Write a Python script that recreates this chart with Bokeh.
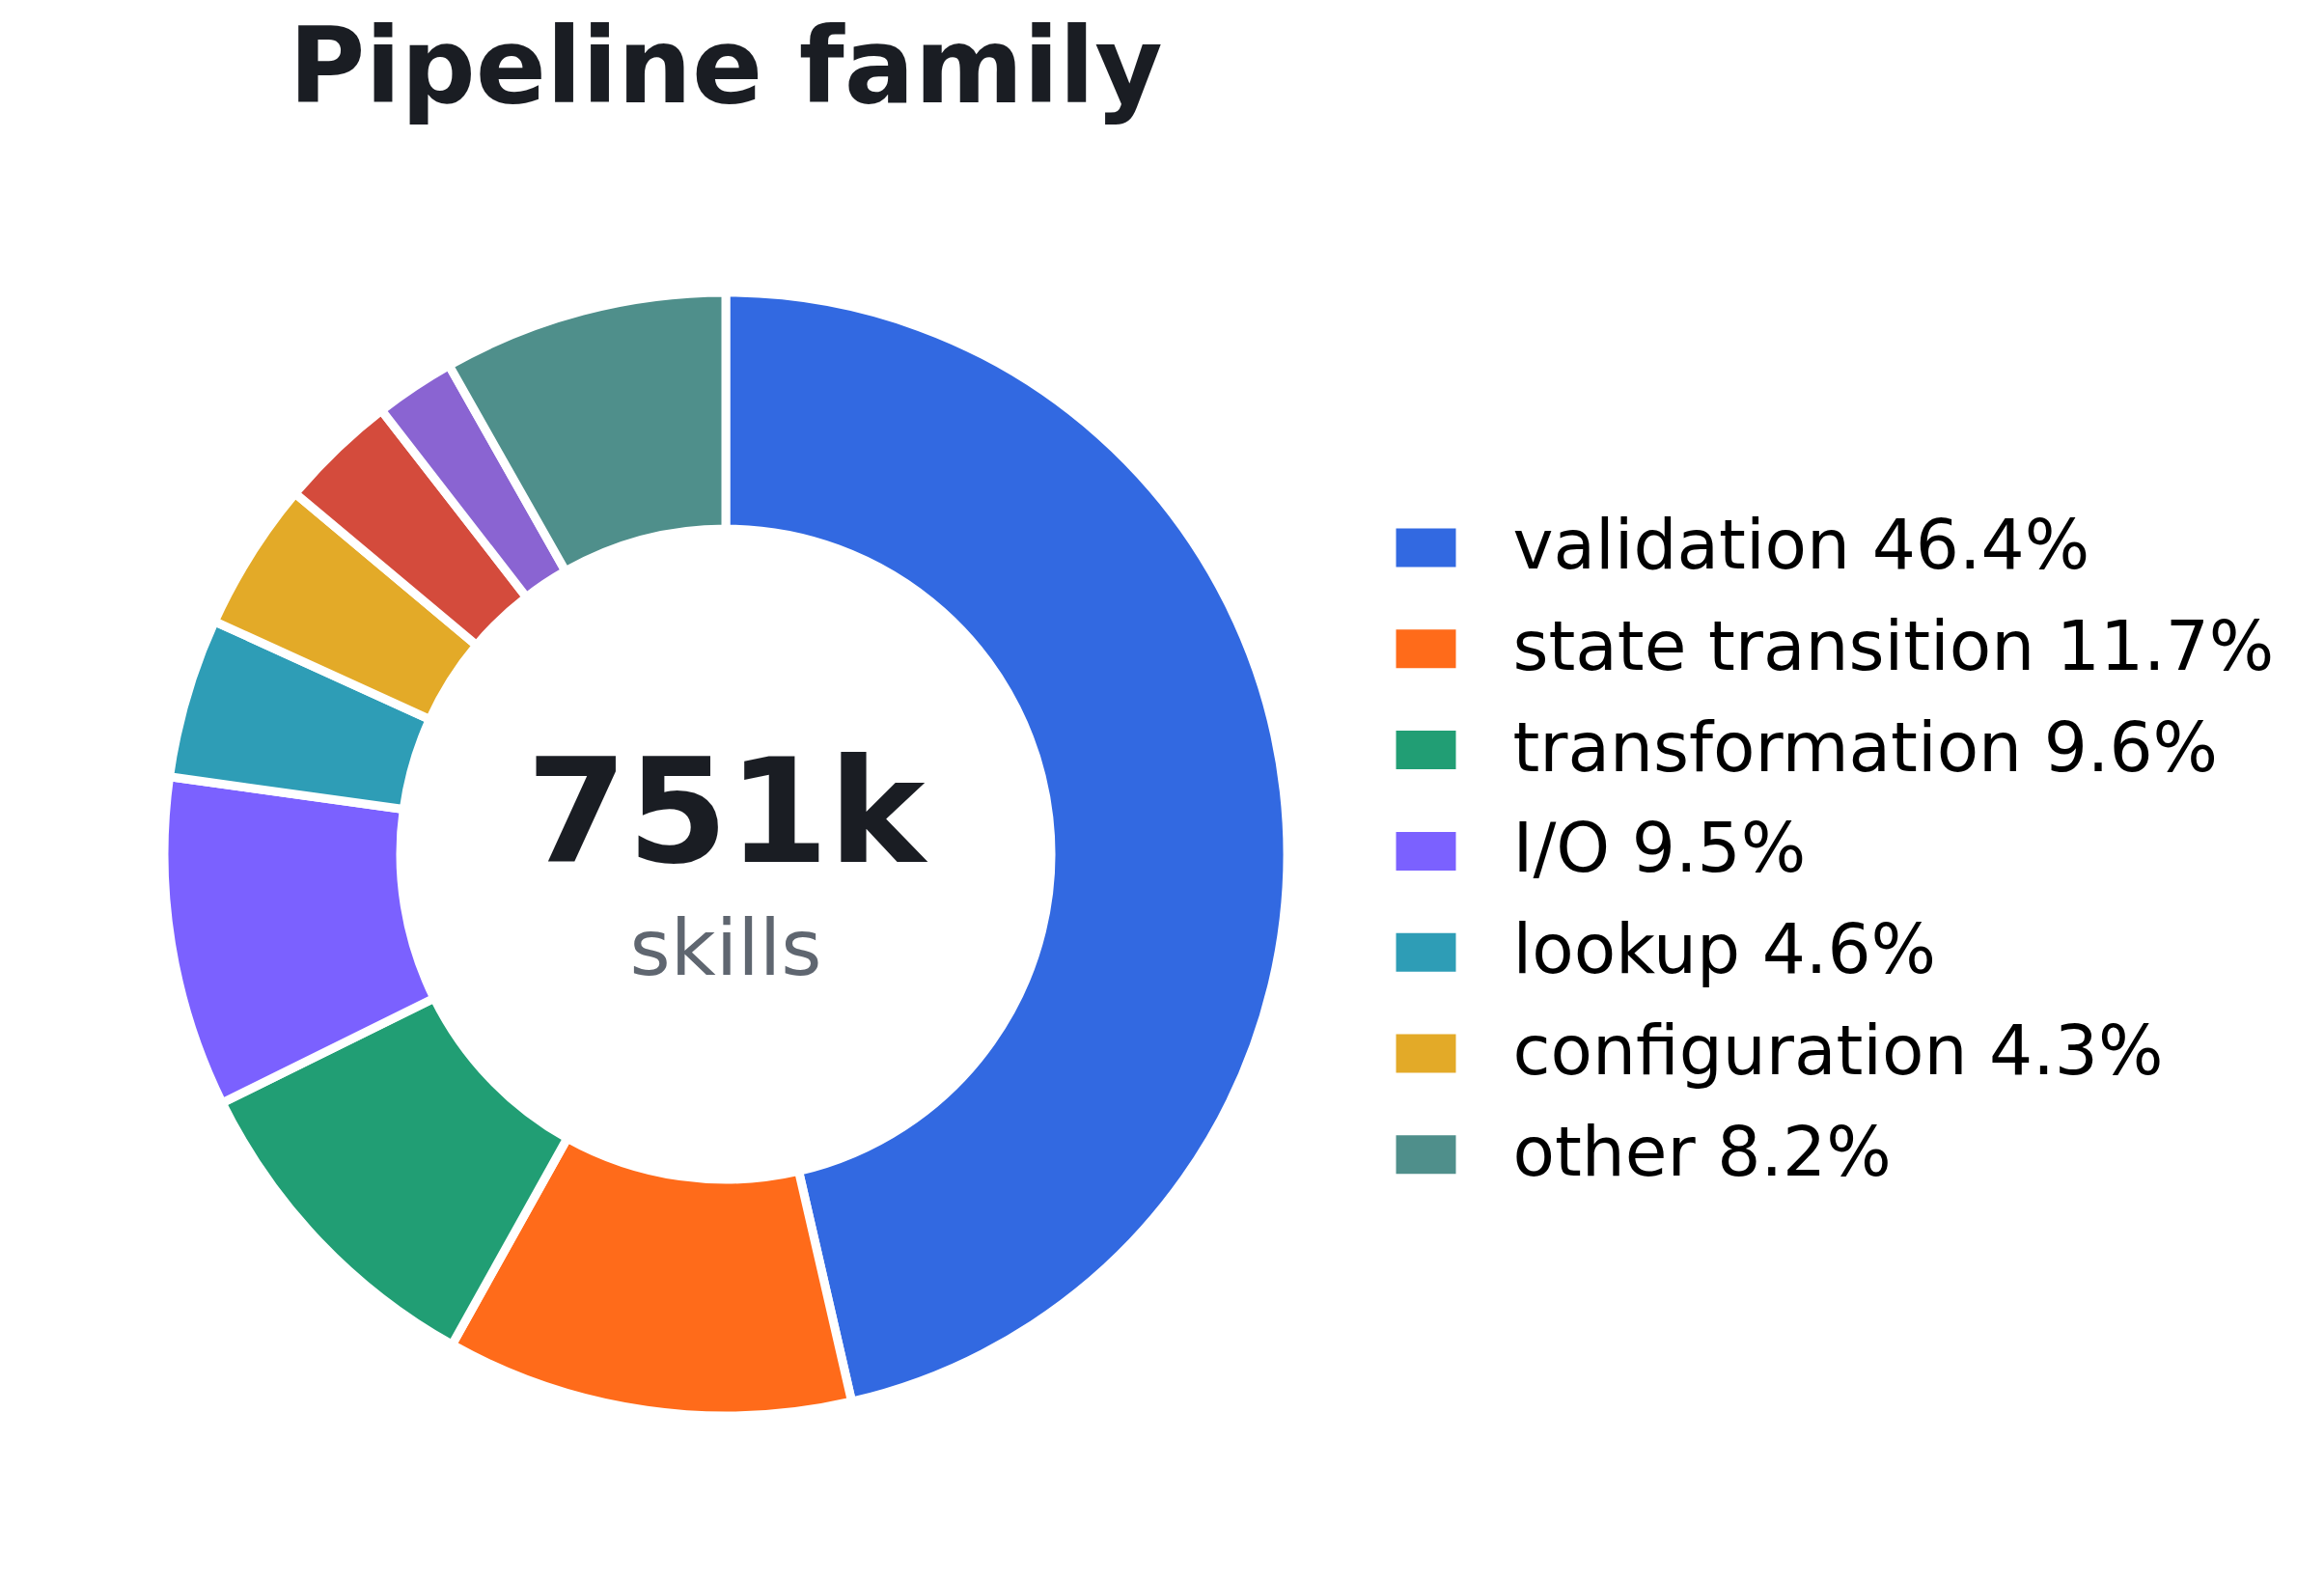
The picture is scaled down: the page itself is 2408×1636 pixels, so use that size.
"""Donut chart of pipeline families, rebuilt with Bokeh."""

import math

from bokeh.core.properties import value
from bokeh.embed import file_html
from bokeh.models import ColumnDataSource, Range1d
from bokeh.plotting import figure
from bokeh.resources import INLINE

# Data (clockwise from 12 o'clock)
families = ["validation", "state transition", "transformation", "I/O", "lookup",
            "configuration", "", "", "other"]
shares = [46.4, 11.7, 9.6, 9.5, 4.6, 4.3, 3.4, 2.3, 8.2]
colors = ["#3269E1", "#FF6B1A", "#219E74", "#7B61FF", "#2E9DB6",
          "#E3AA28", "#D44B3C", "#8A64D2", "#4F8F8B"]
total_label = "751k"
total_unit = "skills"
title_text = "Pipeline family"

W, H = 2392, 1620
CX, CY = 751.5, 735.5
R_OUT, R_IN = 582, 337

p = figure(width=W, height=H, x_range=Range1d(0, W), y_range=Range1d(0, H),
           output_backend="svg", toolbar_location=None, min_border=0,
           background_fill_color="white", border_fill_color="white")
p.axis.visible = False
p.grid.visible = False
p.outline_line_color = None

# wedge angles, counter-clockwise radians, starting at top going clockwise
tot = sum(shares)
starts, ends = [], []
cum = 0.0
for s in shares:
    a0 = math.pi / 2 - 2 * math.pi * cum / tot
    cum += s
    a1 = math.pi / 2 - 2 * math.pi * cum / tot
    starts.append(a1)
    ends.append(a0)

src = ColumnDataSource(dict(x=[CX] * len(shares), y=[CY] * len(shares),
                            start=starts, end=ends, color=colors))
p.annular_wedge(x="x", y="y", inner_radius=R_IN, outer_radius=R_OUT,
                start_angle="start", end_angle="end", direction="anticlock",
                fill_color="color", line_color="white", line_width=9, source=src)

# centre text
p.text(x=[CX], y=[780], text=[total_label], text_align="center",
       text_baseline="alphabetic", text_font=value("DejaVu Sans"),
       text_font_style="bold", text_font_size=value("150px"), text_color="#1A1D23")
p.text(x=[CX], y=[639], text=[total_unit], text_align="center",
       text_baseline="alphabetic", text_font=value("DejaVu Sans"),
       text_font_size=value("81px"), text_color="#5F6670")

# title
p.text(x=[CX], y=[1552], text=[title_text], text_align="center",
       text_baseline="alphabetic", text_font=value("DejaVu Sans"),
       text_font_style="bold", text_font_size=value("108px"), text_color="#1A1D23")

# legend (only named families)
leg = [(f, s, c) for f, s, c in zip(families, shares, colors) if f]
row_y = [1053 - 104.8 * i for i in range(len(leg))]
labels = [f"{f} {s:.1f}%" for f, s, _ in leg]
p.rect(x=[1477] * len(leg), y=row_y, width=62, height=40,
       fill_color=[c for _, _, c in leg], line_color=None)
p.text(x=[1567] * len(leg), y=[yy + 3 for yy in row_y], text=labels,
       text_align="left", text_baseline="alphabetic",
       text_font=value("DejaVu Sans"), text_font_size=value("71px"),
       text_color="black")

open("out.html", "w").write(file_html(p, INLINE))
